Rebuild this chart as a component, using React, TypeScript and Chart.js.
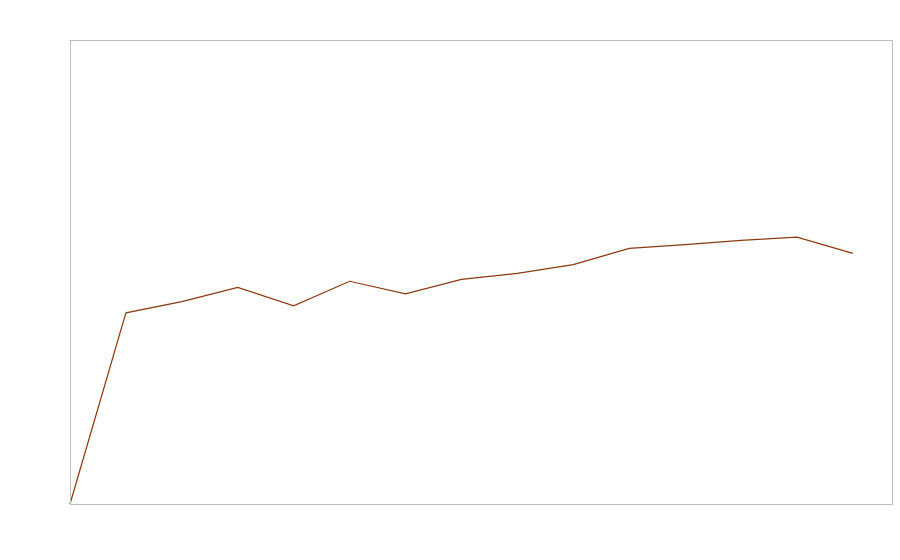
import React, { useEffect, useRef } from "react";
import { Chart, registerables } from "chart.js";

Chart.register(...registerables);

const xValues = [0, 1, 2, 3, 4, 5, 6, 7, 8, 9, 10, 11, 12, 13, 14];
const seriesValues = [0, 41.2, 43.6, 46.7, 42.7, 48.0, 45.3, 48.4, 49.7, 51.6, 55.1, 55.9, 56.8, 57.5, 54.0];
const xMax = 14.7;
const yMax = 100;

const boxPlugin = {
  id: "boxPlugin",
  afterDraw(chart: any) {
    const { ctx, chartArea } = chart;
    ctx.save();
    ctx.strokeStyle = "#bdbdbd";
    ctx.lineWidth = 1;
    ctx.strokeRect(
      Math.round(chartArea.left) + 0.5,
      Math.round(chartArea.top) + 0.5,
      Math.round(chartArea.right - chartArea.left),
      Math.round(chartArea.bottom - chartArea.top)
    );
    ctx.restore();
  },
};

export default function App() {
  const ref = useRef<HTMLCanvasElement | null>(null);
  useEffect(() => {
    if (!ref.current) return;
    const chart = new Chart(ref.current, {
      type: "line",
      data: {
        datasets: [
          {
            data: xValues.map((x, i) => ({ x, y: seriesValues[i] })),
            borderColor: "#8a3a10",
            borderWidth: 1.2,
            pointRadius: 0,
            fill: false,
            tension: 0,
            clip: false,
          },
        ],
      },
      options: {
        animation: false,
        responsive: false,
        maintainAspectRatio: false,
        layout: { padding: { left: 70, top: 40, right: 8, bottom: 56 } },
        plugins: { legend: { display: false }, tooltip: { enabled: false } },
        scales: {
          x: { type: "linear", min: 0, max: xMax, display: false },
          y: { type: "linear", min: 0, max: yMax, display: false },
        },
      },
      plugins: [boxPlugin],
    });
    return () => chart.destroy();
  }, []);
  return (
    <div style={{ position: "fixed", left: 0, top: 0, width: 900, height: 560, background: "#fff" }}>
      <canvas ref={ref} width={900} height={560} style={{ width: 900, height: 560 }} />
    </div>
  );
}
